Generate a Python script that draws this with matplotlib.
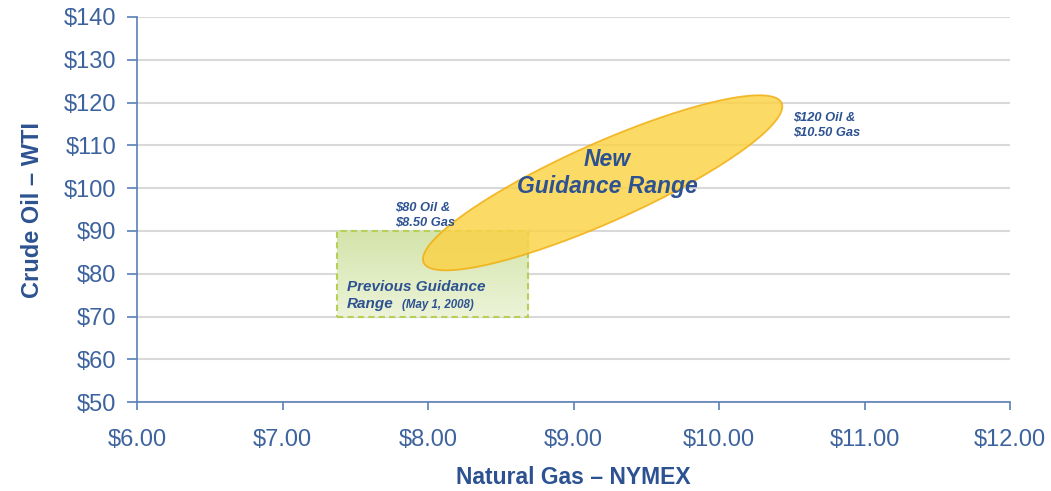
import matplotlib
matplotlib.use('Agg')
import matplotlib.pyplot as plt
import numpy as np
from matplotlib.patches import Rectangle, Polygon
from matplotlib.colors import LinearSegmentedColormap
from matplotlib.ticker import FuncFormatter

plt.rcParams['font.family'] = ['Liberation Sans', 'DejaVu Sans']

# axis ticks
gas_ticks = [6.0, 7.0, 8.0, 9.0, 10.0, 11.0, 12.0]
oil_ticks = [50, 60, 70, 80, 90, 100, 110, 120, 130, 140]

# previous guidance box (gas range, oil range)
prev_gas = [7.375, 8.69]
prev_oil = [70, 90]

# new guidance range: the two ends of the band (gas, oil) and its half width
new_low = (7.97, 82.6)
new_high = (10.43, 119.9)
new_half_width = (-0.11, 8.4)

txt_blue = '#2d5291'
tick_blue = '#3d639e'
spine_blue = '#5b7fb6'

fig = plt.figure(figsize=(10.51, 4.91), dpi=100)
ax = fig.add_axes([0.1304, 0.181, 0.8306, 0.7844])

ax.set_xlim(gas_ticks[0], gas_ticks[-1])
ax.set_ylim(oil_ticks[0], oil_ticks[-1])
ax.set_xticks(gas_ticks)
ax.set_yticks(oil_ticks)
ax.xaxis.set_major_formatter(FuncFormatter(lambda v, p: f'${v:.2f}'))
ax.yaxis.set_major_formatter(FuncFormatter(lambda v, p: f'${v:.0f}'))

ax.grid(axis='y', color='#d9d9d9', linewidth=1.5)
ax.set_axisbelow(True)
for s in ['top', 'right']:
    ax.spines[s].set_visible(False)
for s in ['left', 'bottom']:
    ax.spines[s].set_color(spine_blue)
    ax.spines[s].set_linewidth(1.2)
ax.tick_params(axis='both', colors=spine_blue, width=1.2, labelsize=17,
               labelcolor=tick_blue)
ax.tick_params(axis='y', length=7, pad=8)
ax.tick_params(axis='x', length=6, pad=13)

ax.set_xlabel('Natural Gas – NYMEX', fontsize=16.5, fontweight='bold',
              color=txt_blue, labelpad=11)
ax.set_ylabel('Crude Oil – WTI', fontsize=17, fontweight='bold',
              color=txt_blue, labelpad=14)

# previous range: green gradient box with dashed edge
green = LinearSegmentedColormap.from_list('g', ['#ecf3d8', '#d4e4ab'])
grad = np.linspace(0, 1, 100).reshape(-1, 1)
ax.imshow(grad, extent=[prev_gas[0], prev_gas[1], prev_oil[0], prev_oil[1]],
          origin='lower', cmap=green, aspect='auto', zorder=2)
ax.add_patch(Rectangle((prev_gas[0], prev_oil[0]), prev_gas[1] - prev_gas[0],
                       prev_oil[1] - prev_oil[0], fill=False,
                       edgecolor='#b5d055', linewidth=1.5,
                       linestyle=(0, (3, 2)), zorder=3))
ax.set_xlim(gas_ticks[0], gas_ticks[-1])
ax.set_ylim(oil_ticks[0], oil_ticks[-1])

# new range: yellow ellipse between the two ends
c = np.array([(new_low[0] + new_high[0]) / 2, (new_low[1] + new_high[1]) / 2])
u = np.array([new_high[0] - c[0], new_high[1] - c[1]])
v = np.array(new_half_width)
t = np.linspace(0, 2 * np.pi, 200)
pts = c + np.outer(np.cos(t), u) + np.outer(np.sin(t), v)
ax.add_patch(Polygon(pts, closed=True, facecolor='#fcd244', alpha=0.82,
                     edgecolor='#f1ad0e', linewidth=1.3, zorder=4))

ax.text(9.23, 103.6, 'New\nGuidance Range', ha='center', va='center',
        fontsize=16.5, fontweight='bold', style='italic', color=txt_blue,
        linespacing=1.25, zorder=5)
ax.text(7.443, 77.0, 'Previous Guidance', ha='left', va='center',
        fontsize=11, fontweight='bold', style='italic', color=txt_blue,
        zorder=5)
ax.text(7.443, 73.0, 'Range', ha='left', va='center',
        fontsize=11, fontweight='bold', style='italic', color=txt_blue,
        zorder=5)
ax.text(7.82, 72.8, '(May 1, 2008)', ha='left', va='center',
        fontsize=8.3, fontweight='bold', style='italic', color=txt_blue, zorder=5)
ax.text(7.77, 93.7, '$80 Oil &\n$8.50 Gas', ha='left', va='center',
        fontsize=9.3, fontweight='bold', style='italic', color=txt_blue,
        linespacing=1.35, zorder=5)
ax.text(10.51, 114.6, '$120 Oil &\n$10.50 Gas', ha='left', va='center',
        fontsize=9.3, fontweight='bold', style='italic', color=txt_blue,
        linespacing=1.35, zorder=5)

fig.savefig('out.png', dpi=100)
